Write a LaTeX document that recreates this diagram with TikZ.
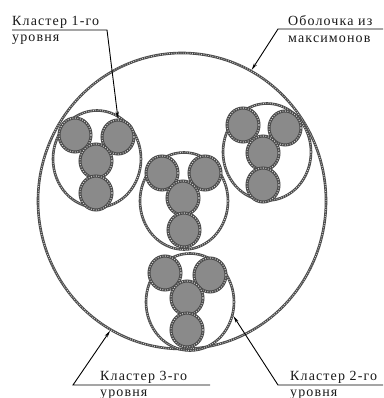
\documentclass[tikz,border=0pt]{standalone}
\usepackage{fontspec}
\setmainfont[LetterSpace=8]{Liberation Serif}
\usetikzlibrary{shapes.geometric,arrows.meta}
\definecolor{beadc}{HTML}{4A4A4A}
\definecolor{beadl}{HTML}{D0D0D0}
\definecolor{cellfill}{HTML}{8A8A8A}
\tikzset{
  bead/.style={ellipse, draw=beadc, line width=2.6pt, inner sep=0pt,
    postaction={draw=beadl, line width=1.0pt, dash pattern=on 0.8pt off 1.5pt}},
  shell/.style={bead, minimum width=288pt, minimum height=296pt},
  cluster/.style={bead, minimum width=88pt, minimum height=97pt},
  cell/.style={ellipse, fill=cellfill, draw=beadc, line width=3pt, inner sep=0pt,
    minimum width=32pt, minimum height=34pt,
    postaction={draw=beadl, line width=1.1pt, dash pattern=on 0.9pt off 1.6pt}},
  lbl/.style={anchor=base west, inner sep=0pt, text=black!90, font=\fontsize{14}{16}\selectfont},
  lead/.style={draw=black, line width=0.9pt},
  arr/.style={lead, -{Stealth[length=7pt,width=3.2pt]}}
}
\begin{document}
\begin{tikzpicture}[x=1pt,y=-1pt]
\useasboundingbox (0,0) rectangle (383,398);
\fill[white] (0,0) rectangle (383,398);
% outer shell
\node[shell] (big) at (182,201) {};
% level-2 clusters
\node[cluster] (cL) at (97,159) {};
\node[cluster] (cM) at (184,201) {};
\node[cluster] (cR) at (267,152) {};
\node[cluster] (cB) at (190,302) {};
% cells, left cluster
\node[cell] (L1) at (75,135) {};
\node[cell] (L2) at (118,137) {};
\node[cell] (L3) at (96,161) {};
\node[cell] (L4) at (96,193) {};
% middle cluster
\node[cell] (M1) at (162,173) {};
\node[cell] (M2) at (205,173) {};
\node[cell] (M3) at (183,198) {};
\node[cell] (M4) at (184,230) {};
% right cluster
\node[cell] (R1) at (243,125) {};
\node[cell] (R2) at (285,128) {};
\node[cell] (R3) at (263,153) {};
\node[cell] (R4) at (263,185) {};
% bottom cluster
\node[cell] (B1) at (165,273) {};
\node[cell] (B2) at (210,275) {};
\node[cell] (B3) at (187,298) {};
\node[cell] (B4) at (187,330) {};
% labels
\node[lbl] (t1a) at (12,26) {Кластер 1-го};
\node[lbl] (t1b) at (12,42) {уровня};
\node[lbl] (t2a) at (288,26) {Оболочка из};
\node[lbl] (t2b) at (288,43) {максимонов};
\node[lbl] (t3a) at (100,380) {Кластер 3-го};
\node[lbl] (t3b) at (100,396) {уровня};
\node[lbl] (t4a) at (290,380) {Кластер 2-го};
\node[lbl] (t4b) at (290,396) {уровня};
% leader lines
\coordinate (u1a) at (12,30);
\coordinate (u1b) at (107,30);
\coordinate (u2a) at (383,29);
\coordinate (u2b) at (278,29);
\coordinate (u3a) at (210,385);
\coordinate (u3b) at (73,385);
\coordinate (u4a) at (383,385);
\coordinate (u4b) at (278,385);
\draw[arr] (u1a) -- (u1b) -- (L2.north);
\draw[arr] (u2a) -- (u2b) -- (big.62);
\draw[arr] (u3a) -- (u3b) -- (big.241);
\draw[arr] (u4a) -- (u4b) -- (cB.342);
\end{tikzpicture}
\end{document}
